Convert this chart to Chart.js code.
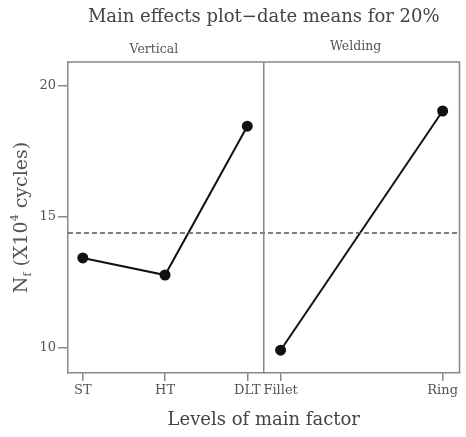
<!DOCTYPE html>
<html>
<head>
<meta charset="utf-8">
<script src="https://cdn.jsdelivr.net/npm/chart.js@4"></script>
<style>
  html, body { margin: 0; padding: 0; background: #fff; }
  #wrap { width: 466px; height: 437px; }
</style>
</head>
<body>
<div id="wrap"><canvas id="chart" width="466" height="437"></canvas></div>
<script>
// Datos del gráfico de efectos principales
const verticalLevels = ['ST', 'HT', 'DLT'];
const verticalMeans = [13.44, 12.79, 18.47];
const weldingLevels = ['Fillet', 'Ring'];
const weldingMeans = [9.92, 19.05];
const grandMean = 14.39;
const yTicks = [10, 15, 20];
const panelNames = ['Vertical', 'Welding'];

const serif = '"DejaVu Serif", serif';
const textColor = '#555';
const axisColor = '#888';

// Caja de los paneles, divisor, línea de media y títulos
const panelPlugin = {
  id: 'panelPlugin',
  afterDatasetsDraw(chart) {
    const ctx = chart.ctx;
    const a = chart.chartArea;
    const xL = chart.scales.xL;
    const y = chart.scales.y;
    ctx.save();
    // linea punteada (media general)
    const ym = y.getPixelForValue(grandMean);
    ctx.strokeStyle = '#555';
    ctx.lineWidth = 1.5;
    ctx.setLineDash([5, 3]);
    ctx.beginPath();
    ctx.moveTo(a.left, ym);
    ctx.lineTo(a.right, ym);
    ctx.stroke();
    ctx.setLineDash([]);
    // borde superior, derecho y divisor
    ctx.strokeStyle = axisColor;
    ctx.lineWidth = 1.5;
    ctx.beginPath();
    ctx.moveTo(a.left, a.top);
    ctx.lineTo(a.right, a.top);
    ctx.lineTo(a.right, a.bottom);
    ctx.moveTo(xL.right, a.top);
    ctx.lineTo(xL.right, a.bottom);
    ctx.stroke();
    // nombres de los paneles
    ctx.fillStyle = textColor;
    ctx.font = '12.5px ' + serif;
    ctx.textAlign = 'center';
    ctx.textBaseline = 'middle';
    ctx.fillText(panelNames[0], (xL.left + xL.right) / 2 - 12, a.top - 12);
    const xR = chart.scales.xR;
    ctx.fillText(panelNames[1], (xR.left + xR.right) / 2 - 6, a.top - 15);
    ctx.restore();
  },
  afterDraw(chart) {
    // titulo del eje Y con subindice y superindice
    const ctx = chart.ctx;
    const a = chart.chartArea;
    ctx.save();
    ctx.translate(22, (a.top + a.bottom) / 2);
    ctx.rotate(-Math.PI / 2);
    ctx.fillStyle = textColor;
    ctx.textBaseline = 'middle';
    ctx.textAlign = 'left';
    const parts = [
      ['N', 19, 0], ['f', 11, 6], [' (X10', 19, 0], ['4', 11, -7], [' cycles)', 19, 0]
    ];
    let total = 0;
    parts.forEach(p => { ctx.font = p[1] + 'px ' + serif; total += ctx.measureText(p[0]).width; });
    let x = -total / 2;
    parts.forEach(p => {
      ctx.font = p[1] + 'px ' + serif;
      ctx.fillText(p[0], x, p[2]);
      x += ctx.measureText(p[0]).width;
    });
    ctx.restore();
  }
};

function xAxis(levels, min, max) {
  return {
    type: 'linear',
    position: 'bottom',
    stack: 'x',
    stackWeight: 1,
    min: min,
    max: max,
    afterBuildTicks: s => { s.ticks = levels.map((l, i) => ({ value: i })); },
    afterFit: s => { s.height = 30; s.paddingLeft = 0; s.paddingRight = 0; },
    grid: { drawOnChartArea: false, tickLength: 8, color: axisColor, lineWidth: 1.5 },
    border: { color: axisColor, width: 1.5 },
    ticks: {
      autoSkip: false,
      maxRotation: 0,
      padding: 2,
      color: textColor,
      font: { family: serif, size: 13 },
      callback: v => levels[v]
    }
  };
}

const ctx = document.getElementById('chart').getContext('2d');
new Chart(ctx, {
  type: 'line',
  data: {
    datasets: [
      {
        label: 'Vertical',
        xAxisID: 'xL',
        data: verticalMeans.map((v, i) => ({ x: i, y: v })),
        borderColor: '#111',
        backgroundColor: '#111',
        borderWidth: 2,
        pointRadius: 4.5,
        tension: 0
      },
      {
        label: 'Welding',
        xAxisID: 'xR',
        data: weldingMeans.map((v, i) => ({ x: i, y: v })),
        borderColor: '#111',
        backgroundColor: '#111',
        borderWidth: 2,
        pointRadius: 4.5,
        tension: 0
      }
    ]
  },
  options: {
    responsive: false,
    animation: false,
    layout: { padding: { left: 0, right: 2, top: 0, bottom: 0 } },
    plugins: {
      legend: { display: false },
      tooltip: { enabled: false },
      title: {
        display: true,
        text: 'Main effects plot\u2212date means for 20%',
        fullSize: false,
        color: '#444',
        font: { family: serif, size: 18, weight: 'normal' },
        padding: { top: 7, bottom: 33.4 }
      },
      subtitle: {
        display: true,
        position: 'bottom',
        text: 'Levels of main factor',
        fullSize: false,
        color: '#444',
        font: { family: serif, size: 18, weight: 'normal' },
        padding: { top: 6.2, bottom: 6.2 }
      }
    },
    scales: {
      xL: xAxis(verticalLevels, -0.18, 2.2),
      xR: xAxis(weldingLevels, -0.104, 1.104),
      y: {
        min: 9.05,
        max: 20.92,
        afterBuildTicks: s => { s.ticks = yTicks.map(v => ({ value: v })); },
        afterFit: s => { s.width = 68; },
        grid: { drawOnChartArea: false, tickLength: 10, color: axisColor, lineWidth: 1.5 },
        border: { color: axisColor, width: 1.5 },
        ticks: { padding: 2, color: textColor, font: { family: serif, size: 13 } }
      }
    }
  },
  plugins: [panelPlugin]
});
</script>
</body>
</html>
